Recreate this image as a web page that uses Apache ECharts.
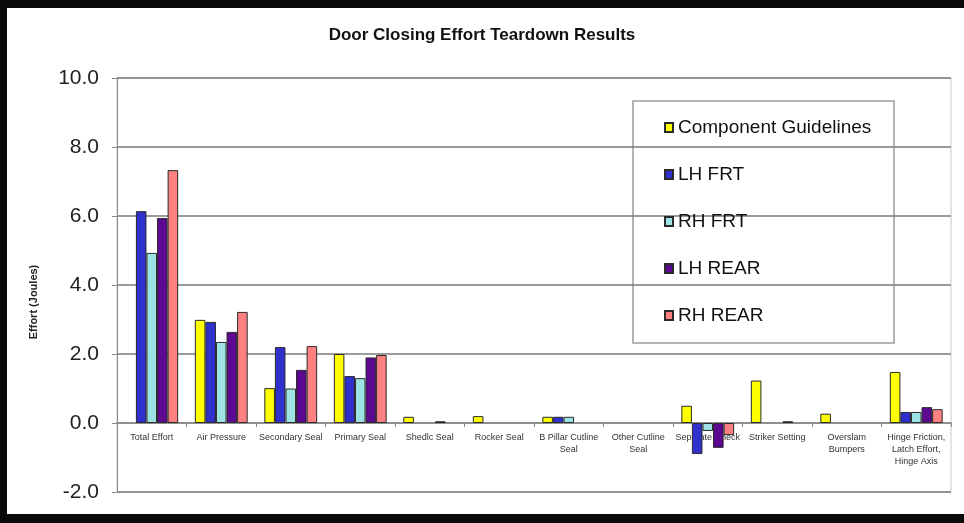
<!DOCTYPE html>
<html>
<head>
<meta charset="utf-8">
<title>Door Closing Effort Teardown Results</title>
<script src="https://cdn.jsdelivr.net/npm/echarts@6/dist/echarts.min.js"></script>
<style>
  html, body { margin: 0; padding: 0; background: #fff; }
  #chart { width: 964px; height: 523px; }
</style>
</head>
<body>
<div id="chart"></div>
<script>
// Teardown categories along the x axis
var categories = [
  'Total Effort', 'Air Pressure', 'Secondary Seal', 'Primary Seal', 'Shedlc Seal',
  'Rocker Seal', 'B Pillar Cutline\nSeal', 'Other Cutline\nSeal', 'Separate Check',
  'Striker Setting', 'Overslam\nBumpers', 'Hinge Friction,\nLatch Effort,\nHinge Axis'
];

// Closing effort per component (Joules); null = not measured
var componentGuidelines = [null, 2.99, 1.01, 2.0, 0.18, 0.2, 0.18, null, 0.5, 1.23, 0.27, 1.48];
var lhFrt  = [6.14, 2.93, 2.2, 1.36, null, null, 0.18, null, -0.9, null, null, 0.32];
var rhFrt  = [4.93, 2.35, 1.0, 1.3, null, null, 0.18, null, -0.23, null, null, 0.32];
var lhRear = [5.94, 2.64, 1.54, 1.9, 0.05, null, null, null, -0.72, 0.05, null, 0.46];
var rhRear = [7.33, 3.22, 2.23, 1.97, null, null, null, null, -0.35, null, null, 0.4];

// Value axis range and step
var yMin = -2, yMax = 10, yStep = 2;

var seriesNames = ['Component Guidelines', 'LH FRT', 'RH FRT', 'LH REAR', 'RH REAR'];
var seriesData = [componentGuidelines, lhFrt, rhFrt, lhRear, rhRear];
var seriesColors = ['#ffff00', '#3030cc', '#9de3e3', '#5c0890', '#ff8080'];

var narrow = '"Liberation Sans Narrow", "Arial Narrow", "Liberation Sans", Arial, sans-serif';

var gridTop = 78, gridBottom = 31, chartHeight = 523;
var plotHeight = chartHeight - gridTop - gridBottom;
// lift the category axis (line, ticks and labels) up to the zero line
var zeroOffset = -plotHeight * (0 - yMin) / (yMax - yMin);

var chart = echarts.init(document.getElementById('chart'), null, { renderer: 'canvas' });

chart.setOption({
  backgroundColor: '#ffffff',
  animation: false,
  title: {
    text: 'Door Closing Effort Teardown Results',
    left: 'center',
    top: 22,
    textStyle: { fontFamily: narrow, fontSize: 17, fontWeight: 'bold', color: '#111' }
  },
  grid: { left: 117, right: 13, top: gridTop, bottom: gridBottom, show: true, borderColor: '#c8c8c8', borderWidth: 1 },
  legend: {
    orient: 'vertical',
    left: 659,
    top: 113,
    itemWidth: 8,
    itemHeight: 9,
    itemGap: 28,
    icon: 'rect',
    textStyle: { fontFamily: narrow, fontSize: 19, color: '#111' },
    data: seriesNames
  },
  xAxis: {
    type: 'category',
    data: categories,
    offset: zeroOffset,
    axisLine: { onZero: false, lineStyle: { color: '#8a8a8a', width: 1.5 } },
    axisTick: { show: true, alignWithLabel: false, length: 4, lineStyle: { color: '#8a8a8a' } },
    axisLabel: {
      interval: 0,
      margin: 9,
      fontFamily: narrow,
      fontSize: 9,
      lineHeight: 12,
      color: '#333'
    },
    splitLine: { show: false }
  },
  yAxis: {
    type: 'value',
    min: yMin,
    max: yMax,
    interval: yStep,
    name: 'Effort (Joules)',
    nameLocation: 'middle',
    nameGap: 78,
    nameTextStyle: {
      fontFamily: '"Liberation Sans", Arial, sans-serif',
      fontSize: 11, fontWeight: 'bold', color: '#222',
      padding: [0, 34, 0, 0]
    },
    axisLine: { show: true, lineStyle: { color: '#8a8a8a', width: 1 } },
    axisTick: { show: true, inside: false, length: 5, lineStyle: { color: '#8a8a8a' } },
    axisLabel: {
      margin: 18,
      fontFamily: narrow,
      fontSize: 21,
      color: '#222',
      formatter: function (v) { return v.toFixed(1); }
    },
    splitLine: { show: true, lineStyle: { color: '#7a7a7a', width: 1.5 } }
  },
  series: seriesNames.map(function (name, i) {
    return {
      name: name,
      type: 'bar',
      data: seriesData[i],
      barGap: '0%',
      barCategoryGap: '24%',
      itemStyle: { color: seriesColors[i], borderColor: '#2a2a2a', borderWidth: 1 }
    };
  }),
  graphic: [
    // legend frame
    { type: 'rect', z: -1, shape: { x: 633, y: 101, width: 261, height: 242 },
      style: { fill: '#fff', stroke: '#9a9a9a', lineWidth: 1.5 } },
    // outer dark frame
    { type: 'rect', shape: { x: 0, y: 0, width: 964, height: 8 }, style: { fill: '#0a0a0a' } },
    { type: 'rect', shape: { x: 0, y: 0, width: 7, height: 523 }, style: { fill: '#0a0a0a' } },
    { type: 'rect', shape: { x: 0, y: 514, width: 964, height: 9 }, style: { fill: '#0a0a0a' } }
  ]
});
</script>
</body>
</html>
